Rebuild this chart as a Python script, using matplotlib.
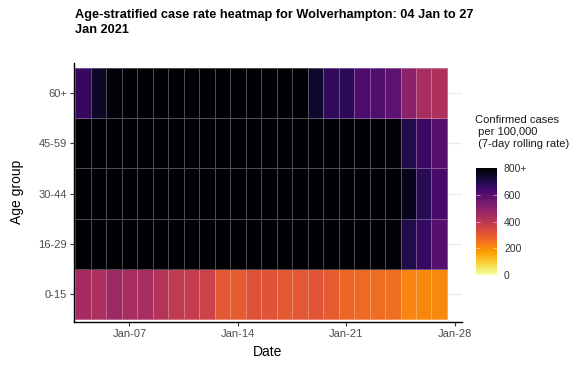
import numpy as np
import pandas as pd
import matplotlib
matplotlib.use('Agg')
import matplotlib.pyplot as plt
import matplotlib.dates as mdates
from matplotlib.colors import Normalize

plt.rcParams['font.family'] = ['Liberation Sans', 'DejaVu Sans']

# ---------------- data ----------------
dates = pd.date_range('2021-01-04', '2021-01-27', freq='D')
age_groups = ['0-15', '16-29', '30-44', '45-59', '60+']

rate_0_15 = [445, 425, 460, 440, 440, 415, 390, 380, 360, 300, 295, 320,
             315, 300, 305, 310, 295, 270, 268, 262, 258, 215, 212, 208]
rate_16_29 = [1180, 1210, 1240, 1260, 1250, 1230, 1200, 1170, 1140, 1100, 1060, 1030,
              1000, 980, 950, 920, 890, 860, 840, 815, 790, 700, 660, 600]
rate_30_44 = [1120, 1150, 1180, 1200, 1190, 1170, 1150, 1120, 1090, 1060, 1030, 1000,
              980, 960, 940, 910, 890, 870, 850, 830, 810, 760, 685, 625]
rate_45_59 = [1010, 1040, 1070, 1090, 1080, 1060, 1040, 1010, 990, 960, 940, 920,
              900, 880, 870, 850, 840, 830, 820, 810, 790, 700, 655, 600]
rate_60_plus = [660, 745, 785, 815, 840, 860, 870, 865, 850, 840, 830, 820,
                810, 805, 802, 740, 670, 680, 620, 615, 590, 495, 440, 430]

x_tick_dates = pd.to_datetime(['2021-01-07', '2021-01-14', '2021-01-21', '2021-01-28'])
cbar_ticks = [0, 200, 400, 600, 800]
cbar_labels = ['0', '200', '400', '600', '800+']

title_line1 = 'Age-stratified case rate heatmap for Wolverhampton: 04 Jan to 27'
title_line2 = 'Jan 2021'
legend_title = ['Confirmed cases', ' per 100,000', ' (7-day rolling rate)']

# ---------------- figure ----------------
W, H = 581, 365
fig = plt.figure(figsize=(W / 100, H / 100), dpi=100)


def px(l, t, r, b):
    return [l / W, 1 - b / H, (r - l) / W, (b - t) / H]


ax = fig.add_axes(px(74, 63, 462, 322))

Z = np.array([rate_0_15, rate_16_29, rate_30_44, rate_45_59, rate_60_plus], dtype=float)
centers = mdates.date2num(dates)
x_edges = np.append(centers - 0.5, centers[-1] + 0.5)
y_edges = np.arange(len(age_groups) + 1) - 0.5

norm = Normalize(0, 800)
mesh = ax.pcolormesh(x_edges, y_edges, Z, cmap='inferno_r', norm=norm,
                     edgecolors=(1, 1, 1, 0.3), linewidth=0.6, zorder=2)

for i in range(len(age_groups)):
    ax.axhline(i, color='#ebebeb', lw=0.9, zorder=0)

ax.set_xlim(centers[0] - 0.58, centers[-1] + 1.47)
ax.set_ylim(-0.56, 4.6)

ax.set_xticks(mdates.date2num(x_tick_dates))
ax.set_xticklabels([d.strftime('%b-%d') for d in x_tick_dates])
ax.set_yticks(range(len(age_groups)))
ax.set_yticklabels(age_groups)
ax.tick_params(axis='both', length=3, width=0.8, color='#333333',
               labelsize=8, labelcolor='#4d4d4d', pad=2)

for s in ['top', 'right']:
    ax.spines[s].set_visible(False)
for s in ['left', 'bottom']:
    ax.spines[s].set_color('black')
    ax.spines[s].set_linewidth(1.0)

fig.text(268 / W, 1 - 352 / H, 'Date', ha='center', va='center', fontsize=10)
fig.text(17 / W, 1 - 192 / H, 'Age group', ha='center', va='center',
         rotation=90, fontsize=10)

# title
t1 = fig.text(75 / W, 1 - 18 / H, title_line1, ha='left', va='baseline',
              fontweight='bold', fontsize=9.5)
t2 = fig.text(75 / W, 1 - 33 / H, title_line2, ha='left', va='baseline',
              fontweight='bold', fontsize=9.5)
fig.canvas.draw()
w = t1.get_window_extent().width
fs = 9.5 * 400 / w
t1.set_fontsize(fs)
t2.set_fontsize(fs)

# legend
for i, line in enumerate(legend_title):
    fig.text(475 / W, 1 - (123 + 12 * i) / H, line, ha='left', va='baseline',
             fontsize=8, color='#1a1a1a')

cax = fig.add_axes(px(476, 168, 497, 275))
cb = fig.colorbar(mesh, cax=cax, ticks=cbar_ticks)
cb.outline.set_visible(False)
cb.set_ticklabels(cbar_labels)
cax.tick_params(length=0, pad=5, labelsize=7.5, labelcolor='#333333')
for v in cbar_ticks[1:-1]:
    cax.hlines(v, 0, 0.2, color='white', lw=0.6, alpha=0.6)
    cax.hlines(v, 0.8, 1, color='white', lw=0.6, alpha=0.6)

fig.savefig('out.png', dpi=100)
